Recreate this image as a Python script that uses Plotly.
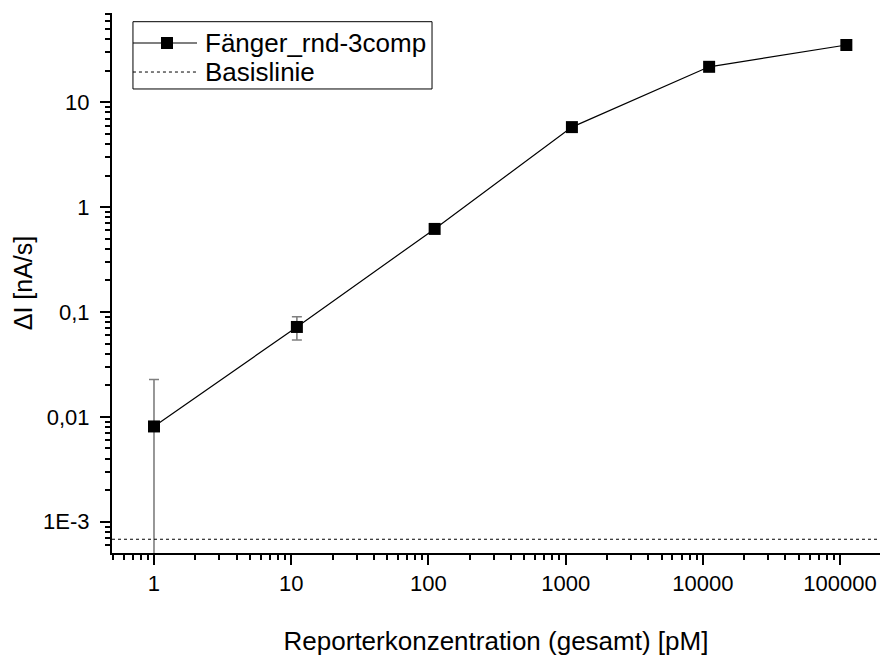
import plotly.graph_objects as go

# Reporter concentration (total) in pM and measured signal slope
concentration_pm = [1, 11, 111, 1111, 11111, 111111]
delta_i = [0.0081, 0.072, 0.62, 5.8, 21.8, 35.2]
delta_i_err = [0.0146, 0.018, None, None, None, None]
baseline_level = 6.8e-4

x_tick_vals = [1, 10, 100, 1000, 10000, 100000]
x_tick_text = ["1", "10", "100", "1000", "10000", "100000"]
y_tick_vals = [1e-3, 0.01, 0.1, 1, 10]
y_tick_text = ["1E-3", "0,01", "0,1", "1", "10"]

series_name = "Fänger_rnd-3comp"
baseline_name = "Basislinie"
x_title = "Reporterkonzentration (gesamt) [pM]"
y_title = "ΔI [nA/s]"

FONT = "Liberation Sans, Arial, sans-serif"


def minor_ticks(first_decade, last_decade, lo, hi):
    vals = []
    for d in range(first_decade, last_decade + 1):
        for m in range(2, 10):
            v = m * 10.0 ** d
            if lo <= v <= hi:
                vals.append(v)
    return vals


x_range = [-0.306, 5.291]
y_range = [-3.2985, 1.8517]

fig = go.Figure()

fig.add_trace(go.Scatter(
    x=concentration_pm,
    y=delta_i,
    mode="lines+markers",
    name=series_name,
    showlegend=False,
    line=dict(color="black", width=1.2),
    marker=dict(symbol="square", size=12, color="black"),
    error_y=dict(type="data", array=delta_i_err, visible=True,
                 color="#7f7f7f", thickness=1.6, width=5),
))

fig.add_hline(
    y=baseline_level,
    line=dict(color="black", width=1, dash="3px,3px"),
)

# Boxed legend in the upper-left corner of the plot area
leg_x0, leg_x1 = 0.0273, 0.4167
leg_y0, leg_y1 = 0.8593, 0.9839
row_y = [0.9444, 0.8907]
sample_x0, sample_x1, sample_mid = 0.0273, 0.1107, 0.0716
text_x = 0.1185

fig.add_shape(type="rect", xref="paper", yref="paper",
              x0=leg_x0, x1=leg_x1, y0=leg_y0, y1=leg_y1,
              line=dict(color="black", width=1), fillcolor="white", layer="above")
fig.add_shape(type="line", xref="paper", yref="paper",
              x0=sample_x0, x1=sample_x1, y0=row_y[0], y1=row_y[0],
              line=dict(color="black", width=1.2), layer="above")
fig.add_shape(type="rect", xref="paper", yref="paper",
              xsizemode="pixel", ysizemode="pixel",
              xanchor=sample_mid, yanchor=row_y[0],
              x0=-6, x1=6, y0=-6, y1=6,
              line=dict(width=0), fillcolor="black", layer="above")
fig.add_shape(type="line", xref="paper", yref="paper",
              x0=sample_x0, x1=sample_x1, y0=row_y[1], y1=row_y[1],
              line=dict(color="black", width=1, dash="3px,3px"), layer="above")
for label, yy in zip([series_name, baseline_name], row_y):
    fig.add_annotation(text=label, xref="paper", yref="paper",
                       x=text_x, y=yy, xanchor="left", yanchor="middle",
                       showarrow=False,
                       font=dict(family=FONT, size=26, color="black"))

axis_common = dict(
    showline=True, linecolor="black", linewidth=2,
    ticks="outside", ticklen=10, tickwidth=2, tickcolor="black",
    showgrid=False, zeroline=False, mirror=False,
    tickfont=dict(family=FONT, size=22, color="black"),
)

fig.update_xaxes(
    type="log", range=x_range,
    tickmode="array", tickvals=x_tick_vals, ticktext=x_tick_text,
    minor=dict(ticks="outside", ticklen=5, tickwidth=2, tickcolor="black",
               tickmode="array",
               tickvals=minor_ticks(-1, 5, 10 ** x_range[0], 10 ** x_range[1]),
               showgrid=False),
    title=dict(text=x_title, font=dict(family=FONT, size=26, color="black"),
               standoff=36),
    **axis_common,
)

fig.update_yaxes(
    type="log", range=y_range,
    tickmode="array", tickvals=y_tick_vals, ticktext=y_tick_text,
    ticklabelstandoff=6,
    minor=dict(ticks="outside", ticklen=5, tickwidth=2, tickcolor="black",
               tickmode="array",
               tickvals=minor_ticks(-4, 1, 10 ** y_range[0], 10 ** y_range[1]),
               showgrid=False),
    title=dict(text=y_title, font=dict(family=FONT, size=25, color="black"),
               standoff=3),
    **axis_common,
)

fig.update_layout(
    width=881, height=660,
    margin=dict(l=112, r=1, t=13, b=107),
    paper_bgcolor="white", plot_bgcolor="white",
    font=dict(family=FONT, color="black"),
    showlegend=False,
)

fig.write_html("out.html")
